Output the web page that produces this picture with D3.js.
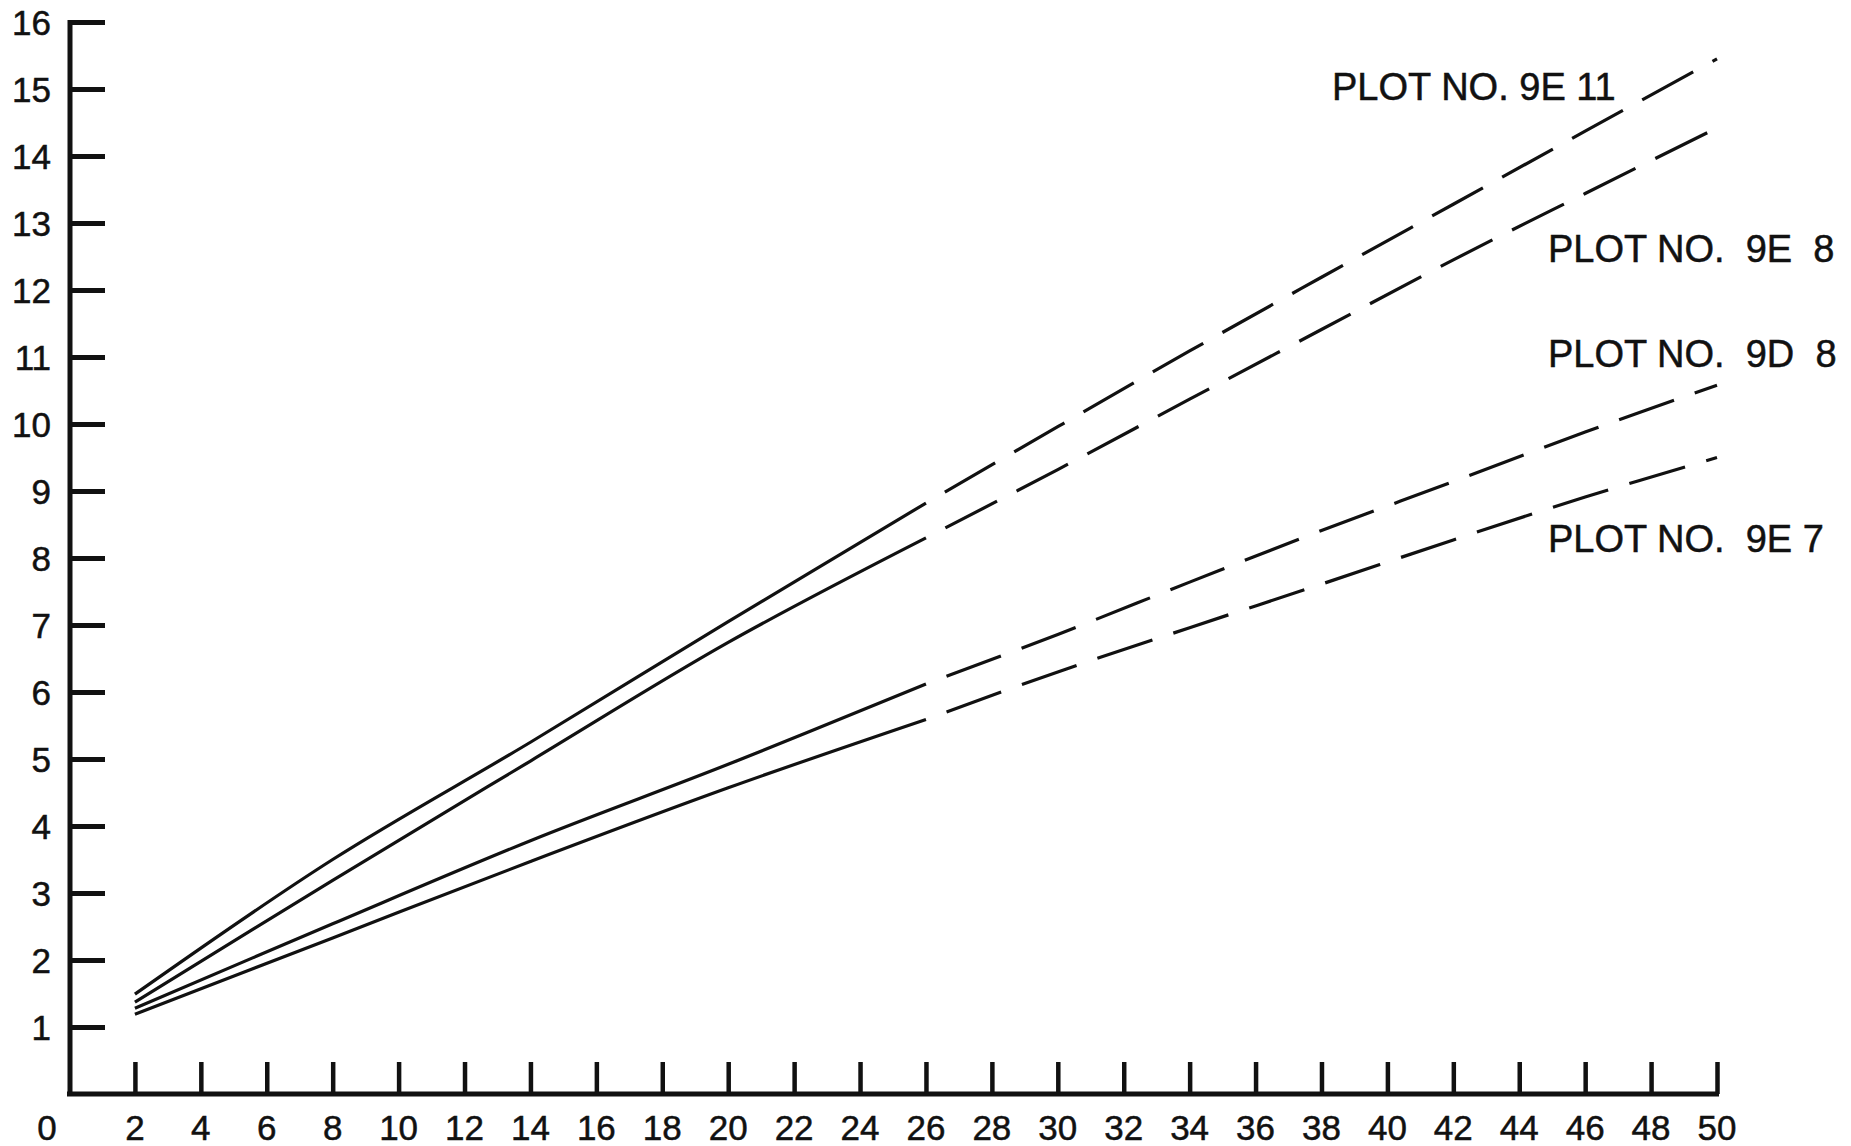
<!DOCTYPE html>
<html>
<head>
<meta charset="utf-8">
<script src="https://cdn.jsdelivr.net/npm/d3@7/dist/d3.min.js"></script>
<style>
  html, body { margin: 0; padding: 0; background: #ffffff; }
  svg { display: block; }
  text { font-family: "Liberation Sans", Arial, Helvetica, sans-serif; fill: #111; stroke: #111; stroke-width: 0.5; white-space: pre; }
</style>
</head>
<body>
<svg id="chart" width="1851" height="1146"></svg>
<script>
// ---- data ----
const xValues = [2, 8, 14, 20, 26, 30, 34, 38, 42, 46, 50];
const solidEndIndex = 4; // curves are solid up to x = 26, dashed beyond
const seriesNames = ["PLOT NO. 9E 11", "PLOT NO.  9E  8", "PLOT NO.  9D  8", "PLOT NO.  9E 7"];
const plot9E11 = [1.49, 3.50, 5.25, 7.05, 8.82, 9.96, 11.09, 12.19, 13.28, 14.37, 15.45];
const plot9E8  = [1.37, 3.19, 4.97, 6.74, 8.30, 9.32, 10.37, 11.41, 12.45, 13.44, 14.42];
const plot9D8  = [1.28, 2.54, 3.78, 4.92, 6.12, 6.86, 7.64, 8.41, 9.14, 9.88, 10.58];
const plot9E7  = [1.19, 2.33, 3.47, 4.57, 5.59, 6.30, 6.96, 7.61, 8.27, 8.91, 9.50];
const xTickValues = [2,4,6,8,10,12,14,16,18,20,22,24,26,28,30,32,34,36,38,40,42,44,46,48,50];
const xTickLabels = ["0","2","4","6","8","10","12","14","16","18","20","22","24","26","28","30","32","34","36","38","40","42","44","46","48","50"];
const yTickValues = [1,2,3,4,5,6,7,8,9,10,11,12,13,14,15,16];

// ---- layout ----
const svg = d3.select("#chart");
const x = d3.scaleLinear().domain([0, 50]).range([69, 1717]);
const y = d3.scaleLinear().domain([0, 16]).range([1094, 22]);

// label anchors in data units (layout only)
const labelAnchors = [
  {x: 38.32, y: 14.84},
  {x: 44.87, y: 12.42},
  {x: 44.87, y: 10.85},
  {x: 44.87, y: 8.09}
];

const series = [plot9E11, plot9E8, plot9D8, plot9E7];

// ---- axes ----
const g = svg.append("g");
// y axis line
g.append("line")
  .attr("x1", x(0) + 1).attr("x2", x(0) + 1)
  .attr("y1", y(16) - 2).attr("y2", y(0) + 2)
  .attr("stroke", "#111").attr("stroke-width", 5);
// x axis line
g.append("line")
  .attr("x1", x(0) - 2).attr("x2", x(50) + 2)
  .attr("y1", y(0)).attr("y2", y(0))
  .attr("stroke", "#111").attr("stroke-width", 5);

// y ticks (pointing right, inward)
const yAxis = d3.axisRight(y).tickValues(yTickValues).tickSize(35).tickFormat("");
const yAxisG = g.append("g").attr("transform", `translate(${x(0) + 1},0)`).call(yAxis);
yAxisG.select(".domain").remove();
yAxisG.selectAll(".tick line").attr("stroke", "#111").attr("stroke-width", 5);

// y labels
g.selectAll(".ylab").data(yTickValues).enter().append("text")
  .attr("class", "ylab")
  .attr("x", 51)
  .attr("y", d => y(d) + 12.5)
  .attr("text-anchor", "end")
  .attr("font-size", 35)
  .text(d => d);

// x ticks (pointing up, inward)
const xAxis = d3.axisTop(x).tickValues(xTickValues).tickSize(32).tickFormat("");
const xAxisG = g.append("g").attr("transform", `translate(0,${y(0)})`).call(xAxis);
xAxisG.select(".domain").remove();
xAxisG.selectAll(".tick line").attr("stroke", "#111").attr("stroke-width", 4.5);

// x labels ("0" sits under the y labels column)
const xLabelPos = [0].concat(xTickValues);
g.selectAll(".xlab").data(xTickLabels).enter().append("text")
  .attr("class", "xlab")
  .attr("x", (d, i) => i === 0 ? x(0) - 22 : x(xLabelPos[i]))
  .attr("y", 1140)
  .attr("text-anchor", "middle")
  .attr("font-size", 35)
  .text(d => d);

// ---- curves ----
const line = d3.line()
  .x(d => x(d[0]))
  .y(d => y(d[1]))
  .curve(d3.curveCatmullRom.alpha(0.5));

series.forEach((vals, si) => {
  const pts = xValues.map((xv, i) => [xv, vals[i]]);
  const solid = pts.slice(0, solidEndIndex + 1);
  const dashed = pts.slice(solidEndIndex);
  svg.append("path")
    .attr("d", line(solid))
    .attr("fill", "none")
    .attr("stroke", "#111")
    .attr("stroke-width", 3.2);
  svg.append("path")
    .attr("d", line(dashed))
    .attr("fill", "none")
    .attr("stroke", "#111")
    .attr("stroke-width", 3.2)
    .attr("stroke-dasharray", "58 22")
    .attr("stroke-dashoffset", 58);
});

// ---- labels ----
svg.selectAll(".plab").data(seriesNames).enter().append("text")
  .attr("class", "plab")
  .attr("x", (d, i) => x(labelAnchors[i].x))
  .attr("y", (d, i) => y(labelAnchors[i].y))
  .attr("font-size", 38)
  .text(d => d);
</script>
</body>
</html>
